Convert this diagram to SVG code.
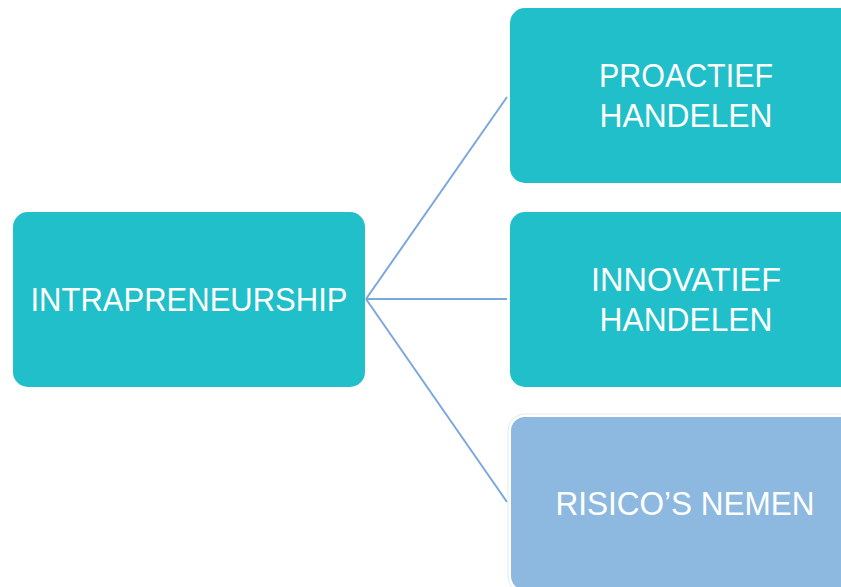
<svg xmlns="http://www.w3.org/2000/svg" width="841" height="587" viewBox="0 0 841 587">
<style>
.teal{fill:#21BFC9;}
.blue{fill:#8DB9E1;stroke:#FFFFFF;stroke-width:2;}
.halo{fill:none;stroke:#E4E8EC;stroke-width:1;}
.t{font-family:"Liberation Sans",Arial,sans-serif;font-size:33px;fill:#FFFFFF;text-anchor:middle;}
.c{stroke:#7BA8DA;stroke-width:2;fill:none;}
</style>
<rect width="841" height="587" fill="#FFFFFF"/>
<g id="connectors">
<line class="c" x1="366" y1="299" x2="507" y2="97"/>
<line class="c" x1="366" y1="299" x2="507" y2="299"/>
<line class="c" x1="366" y1="299" x2="507" y2="502"/>
</g>
<g id="intrapreneurship">
<rect class="teal" x="13" y="212" width="352" height="175" rx="15"/>
<text class="t" x="189" y="311" textLength="317" lengthAdjust="spacingAndGlyphs">INTRAPRENEURSHIP</text>
</g>
<g id="proactief">
<rect class="teal" x="510" y="8" width="352" height="175" rx="15"/>
<text class="t" x="686" y="87" textLength="174" lengthAdjust="spacingAndGlyphs">PROACTIEF</text>
<text class="t" x="686" y="127" textLength="173" lengthAdjust="spacingAndGlyphs">HANDELEN</text>
</g>
<g id="innovatief">
<rect class="teal" x="510" y="212" width="352" height="175" rx="15"/>
<text class="t" x="686" y="291" textLength="190" lengthAdjust="spacingAndGlyphs">INNOVATIEF</text>
<text class="t" x="686" y="331" textLength="173" lengthAdjust="spacingAndGlyphs">HANDELEN</text>
</g>
<g id="risicos">
<rect class="halo" x="508" y="414" width="356" height="179" rx="17"/>
<rect class="blue" x="510" y="416" width="352" height="175" rx="15"/>
<text class="t" x="685" y="515" textLength="259" lengthAdjust="spacingAndGlyphs">RISICO’S NEMEN</text>
</g>
</svg>
